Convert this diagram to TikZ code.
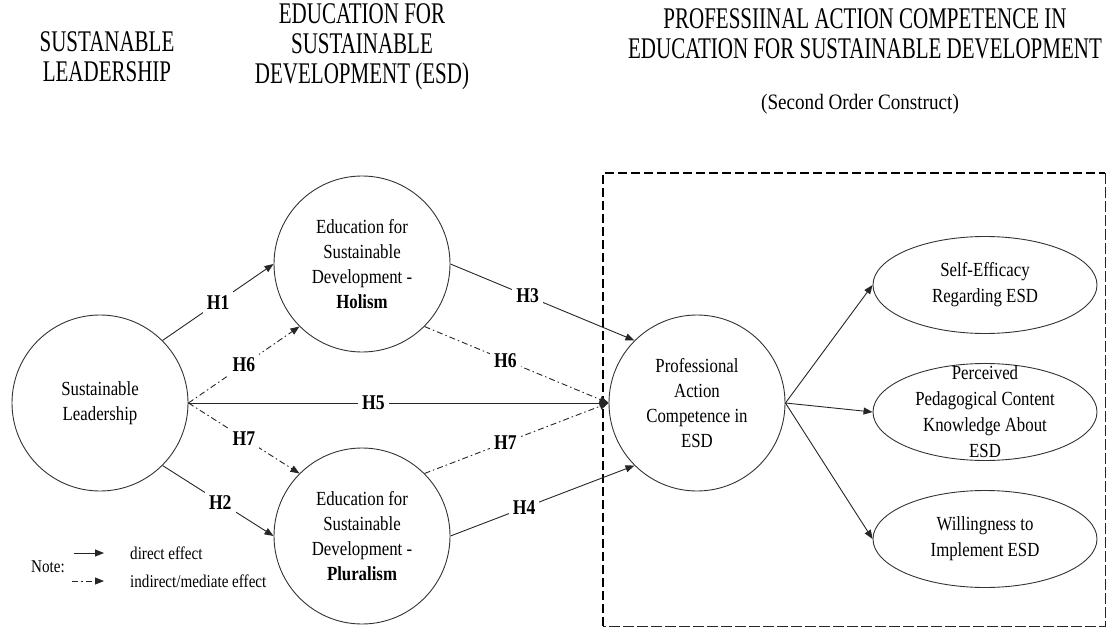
\documentclass[tikz,border=0pt]{standalone}
\usepackage{fontspec}
\usepackage{graphicx}
\setmainfont{Liberation Serif}
\usetikzlibrary{arrows.meta,shapes.geometric}
% condensed settings of one line of text
\newcommand\nw[1]{\scalebox{0.84}[1]{#1}}
\newcommand\hw[1]{\scalebox{0.70}[1]{#1}}
\begin{document}
\begin{tikzpicture}[x=1pt,y=-1pt,
  every node/.style={inner sep=0pt},
  construct/.style={circle,draw=black!80,line width=0.9pt,minimum size=176pt,
    align=center,font=\fontsize{20}{25}\selectfont},
  indicator/.style={ellipse,draw=black!80,line width=0.9pt,
    minimum width=224pt,minimum height=97pt},
  indicatortext/.style={align=center,font=\fontsize{20}{26}\selectfont},
  effect/.style={draw=black!85,line width=0.9pt,-{Triangle[length=9pt,width=7pt]}},
  mediated/.style={effect,dash pattern=on 6pt off 3pt on 1.5pt off 3pt},
  hyp/.style={fill=white,font=\bfseries\fontsize{21}{21}\selectfont,inner sep=4pt},
  header/.style={align=center,font=\fontsize{30}{30}\selectfont},
  legendtext/.style={anchor=west,font=\fontsize{18}{18}\selectfont},
  frameheavy/.style={draw=black,line width=1.8pt,dash pattern=on 9pt off 4pt},
  framelight/.style={draw=black!85,line width=1pt,dash pattern=on 11pt off 3pt},
]
\useasboundingbox (0,0) rectangle (1118,628);

% column headings
\node[header] (headSL) at (107,57) {\hw{SUSTANABLE}\\\hw{LEADERSHIP}};
\node[header] (headESD) at (362,47) {\hw{EDUCATION FOR}\\\hw{SUSTAINABLE}\\\hw{DEVELOPMENT (ESD)}};
\node[header] (headPAC) at (865,34) {\hw{PROFESSIINAL ACTION COMPETENCE IN}\\\hw{EDUCATION FOR SUSTAINABLE DEVELOPMENT}};
\node[font=\fontsize{22}{22}\selectfont] (headSub) at (860,104) {\scalebox{0.87}[1]{(Second Order Construct)}};

% frame around the second order construct
\coordinate (frameBL) at (603,626);
\coordinate (frameTR) at (1105,173);
\draw[frameheavy] (frameBL) |- (frameTR);
\draw[framelight] (frameTR) |- (frameBL);

% constructs
\node[construct] (sl) at (100,403) {\nw{Sustainable}\\\nw{Leadership}};
\node[construct] (hol) at (362,264) {\nw{Education for}\\\nw{Sustainable}\\\nw{Development -}\\\nw{\textbf{Holism}}};
\node[construct] (plu) at (362,536) {\nw{Education for}\\\nw{Sustainable}\\\nw{Development -}\\\nw{\textbf{Pluralism}}};
\node[construct] (pac) at (697,403) {\nw{Professional}\\\nw{Action}\\\nw{Competence in}\\\nw{ESD}};

% first order dimensions
\node[indicator] (se) at (985,285) {};
\node[indicatortext] (seText) at (se) {\nw{Self-Efficacy}\\\nw{Regarding ESD}};
\node[indicator] (pck) at (985,412) {};
\node[indicatortext] (pckText) at (pck) {\nw{Perceived}\\\nw{Pedagogical Content}\\\nw{Knowledge About}\\\nw{ESD}};
\node[indicator] (wil) at (985,539) {};
\node[indicatortext] (wilText) at (wil) {\nw{Willingness to}\\\nw{Implement ESD}};

% direct effects
\draw[effect] (sl.north east) -- node[hyp,pos=0.5] {\nw{H1}} (hol.west);
\draw[effect] (sl.south east) -- node[hyp,pos=0.52] {\nw{H2}} (plu.west);
\draw[effect] (hol.east) -- node[hyp,pos=0.42] {\nw{H3}} (pac.north west);
\draw[effect] (plu.east) -- node[hyp,pos=0.4] {\nw{H4}} (pac.south west);
\draw[effect] (sl.east) -- node[hyp,pos=0.44] {\nw{H5}} (pac.west);

% mediated effects
\draw[mediated] (sl.east) -- node[hyp,pos=0.5] {\nw{H6}} (hol.south west);
\draw[mediated] (hol.south east) -- node[hyp,pos=0.44] {\nw{H6}} (pac.west);
\draw[mediated] (sl.east) -- node[hyp,pos=0.5] {\nw{H7}} (plu.north west);
\draw[mediated] (plu.north east) -- node[hyp,pos=0.44] {\nw{H7}} (pac.west);

% second order construct to its dimensions
\draw[effect] (pac.east) -- (se.west);
\draw[effect] (pac.east) -- (pck.west);
\draw[effect] (pac.east) -- (wil.west);

% legend
\node[legendtext] (note) at (31,567) {\nw{Note:}};
\coordinate (directA) at (74,553);
\coordinate (directB) at (104,553);
\coordinate (indirectA) at (72,581);
\coordinate (indirectB) at (104,581);
\draw[effect] (directA) -- (directB);
\draw[mediated] (indirectA) -- (indirectB);
\node[legendtext] (directText) at (130,553) {\nw{direct effect}};
\node[legendtext] (indirectText) at (130,581) {\nw{indirect/mediate effect}};
\end{tikzpicture}
\end{document}
